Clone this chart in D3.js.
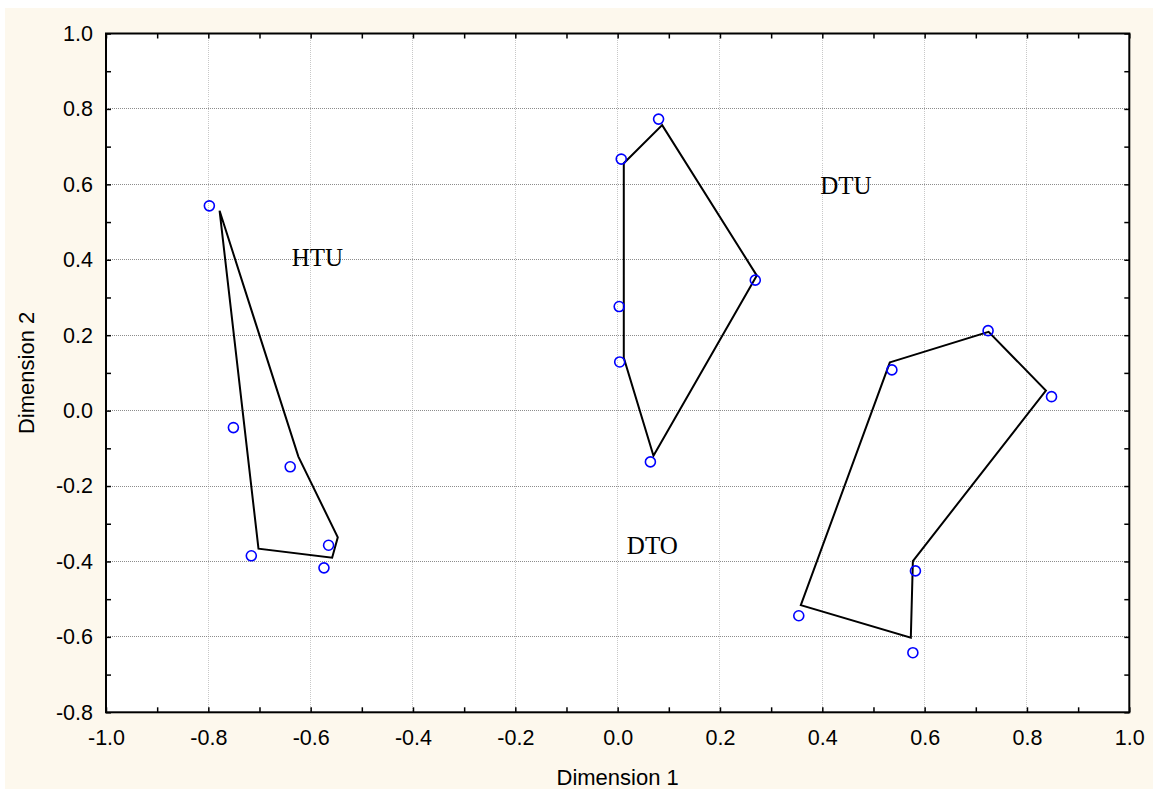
<!DOCTYPE html>
<html>
<head>
<meta charset="utf-8">
<script src="https://cdn.jsdelivr.net/npm/d3@7"></script>
<style>
  html, body { margin: 0; padding: 0; background: #ffffff; }
  svg { display: block; }
</style>
</head>
<body>
<svg id="chart" width="1153" height="789"></svg>
<script>
// Axis extents and tick values
const xDomain = [-1.0, 1.0];
const yDomain = [-0.8, 1.0];
const xTickLabels = [-1.0, -0.8, -0.6, -0.4, -0.2, 0.0, 0.2, 0.4, 0.6, 0.8, 1.0];
const yTickLabels = [-0.8, -0.6, -0.4, -0.2, 0.0, 0.2, 0.4, 0.6, 0.8, 1.0];

// Scaled objects (Dimension 1, Dimension 2)
const htuPoints = [[-0.798, 0.543], [-0.751, -0.045], [-0.640, -0.149], [-0.565, -0.357], [-0.716, -0.385], [-0.574, -0.417]];
const dtuPoints = [[0.080, 0.773], [0.007, 0.667], [0.269, 0.346], [0.003, 0.276], [0.004, 0.129], [0.064, -0.136]];
const dtoPoints = [[0.724, 0.212], [0.536, 0.108], [0.848, 0.037], [0.582, -0.425], [0.354, -0.544], [0.577, -0.642]];

// Group outlines
const htuHull = [[-0.778, 0.530], [-0.624, -0.122], [-0.547, -0.336], [-0.558, -0.390], [-0.702, -0.366]];
const dtuHull = [[0.012, 0.656], [0.087, 0.757], [0.272, 0.358], [0.070, -0.120], [0.012, 0.140]];
const dtoHull = [[0.532, 0.128], [0.725, 0.209], [0.837, 0.053], [0.577, -0.399], [0.573, -0.602], [0.358, -0.516]];

// Group names and where they are written (data units, left/baseline)
const groupNames = ["HTU", "DTU", "DTO"];
const groupNameX = [-0.637, 0.396, 0.018];
const groupNameY = [0.384, 0.574, -0.381];

const xTitle = "Dimension 1";
const yTitle = "Dimension 2";

const svg = d3.select("#chart");
const W = 1153, H = 789;
const plot = { left: 106, top: 33.5, right: 1129.3, bottom: 712.3 };

// page background
svg.append("rect").attr("x", 5).attr("y", 8).attr("width", W - 5).attr("height", H - 8)
  .attr("fill", "#fdf8ed");
svg.append("rect").attr("x", plot.left).attr("y", plot.top)
  .attr("width", plot.right - plot.left).attr("height", plot.bottom - plot.top)
  .attr("fill", "#ffffff");

const x = d3.scaleLinear().domain(xDomain).range([plot.left, plot.right]);
const y = d3.scaleLinear().domain(yDomain).range([plot.bottom, plot.top]);

// one decimal, plain hyphen for negatives
const fmt = d => d.toFixed(1);
const minorX = d3.range(-10, 11).map(d => d / 10);
const minorY = d3.range(-8, 11).map(d => d / 10);

// grid lines
const grid = svg.append("g");
grid.selectAll("line.gx").data(xTickLabels.filter(d => d > xDomain[0] && d < xDomain[1]))
  .join("line").attr("class", "gx")
  .attr("x1", d => x(d)).attr("x2", d => x(d))
  .attr("y1", plot.top).attr("y2", plot.bottom)
  .attr("stroke", "#c8c8c8").attr("stroke-width", 1).attr("stroke-dasharray", "1,1")
  .attr("shape-rendering", "crispEdges");
grid.selectAll("line.gy").data(yTickLabels.filter(d => d > yDomain[0] && d < yDomain[1]))
  .join("line").attr("class", "gy")
  .attr("x1", plot.left).attr("x2", plot.right)
  .attr("y1", d => y(d)).attr("y2", d => y(d))
  .attr("stroke", "#8c8c8c").attr("stroke-width", 1).attr("stroke-dasharray", "1,1")
  .attr("shape-rendering", "crispEdges");

// inward ticks on all four sides
const tickLen = 5;
function inwardAxis(gen, translate) {
  const g = svg.append("g").attr("transform", translate).call(gen);
  g.select(".domain").remove();
  g.selectAll(".tick line").attr("stroke", "#000").attr("stroke-width", 1.5);
  g.selectAll(".tick text").remove();
  return g;
}
inwardAxis(d3.axisBottom(x).tickValues(minorX).tickSize(-tickLen), `translate(0,${plot.bottom})`);
inwardAxis(d3.axisTop(x).tickValues(minorX).tickSize(-tickLen), `translate(0,${plot.top})`);
inwardAxis(d3.axisLeft(y).tickValues(minorY).tickSize(-tickLen), `translate(${plot.left},0)`);
inwardAxis(d3.axisRight(y).tickValues(minorY).tickSize(-tickLen), `translate(${plot.right},0)`);

// tick labels
const labelFont = "'Liberation Sans', Arial, sans-serif";
const xl = svg.append("g").attr("transform", `translate(0,${plot.bottom})`)
  .call(d3.axisBottom(x).tickValues(xTickLabels).tickFormat(fmt).tickSize(0).tickPadding(17));
xl.select(".domain").remove();
xl.selectAll("text").attr("font-family", labelFont).attr("font-size", 21.5).attr("fill", "#000");

const yl = svg.append("g").attr("transform", `translate(${plot.left},0)`)
  .call(d3.axisLeft(y).tickValues(yTickLabels).tickFormat(fmt).tickSize(0).tickPadding(13));
yl.select(".domain").remove();
yl.selectAll("text").attr("font-family", labelFont).attr("font-size", 21.5).attr("fill", "#000");

// frame
svg.append("rect").attr("x", plot.left).attr("y", plot.top)
  .attr("width", plot.right - plot.left).attr("height", plot.bottom - plot.top)
  .attr("fill", "none").attr("stroke", "#000").attr("stroke-width", 2);

// axis titles
svg.append("text").attr("x", (plot.left + plot.right) / 2).attr("y", 785)
  .attr("text-anchor", "middle").attr("font-family", labelFont).attr("font-size", 22)
  .text(xTitle);
svg.append("text")
  .attr("transform", `translate(34,${(plot.top + plot.bottom) / 2}) rotate(-90)`)
  .attr("text-anchor", "middle").attr("font-family", labelFont).attr("font-size", 22)
  .text(yTitle);

// group outlines
const line = d3.line().x(d => x(d[0])).y(d => y(d[1])).curve(d3.curveLinearClosed);
svg.append("g").selectAll("path").data([htuHull, dtuHull, dtoHull]).join("path")
  .attr("d", line).attr("fill", "none").attr("stroke", "#000").attr("stroke-width", 2)
  .attr("stroke-linejoin", "miter");

// points
svg.append("g").selectAll("circle").data([...htuPoints, ...dtuPoints, ...dtoPoints]).join("circle")
  .attr("cx", d => x(d[0])).attr("cy", d => y(d[1])).attr("r", 5)
  .attr("fill", "none").attr("stroke", "#0000ff").attr("stroke-width", 1.6);

// group names
svg.append("g").selectAll("text").data(groupNames).join("text")
  .attr("x", (d, i) => x(groupNameX[i])).attr("y", (d, i) => y(groupNameY[i]))
  .attr("font-family", "'Liberation Serif', 'Times New Roman', serif").attr("font-size", 25)
  .attr("fill", "#000").text(d => d);
</script>
</body>
</html>
